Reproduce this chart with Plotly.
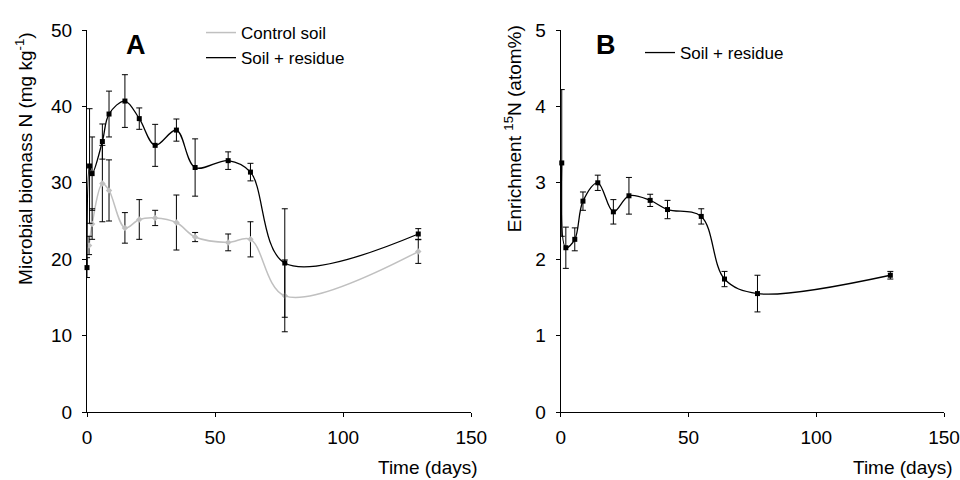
import plotly.graph_objects as go
from plotly.subplots import make_subplots

# ---- Panel A: Microbial biomass N (mg kg-1) ----
days_residue = [0, 1, 2, 6, 8.6, 14.8, 20.4, 26.6, 34.9, 42.2, 55.1, 63.8, 77.2, 129.3]
biomass_residue = [18.9, 32.2, 31.2, 35.4, 39.0, 40.7, 38.4, 34.9, 36.9, 32.0, 32.9, 31.4, 19.5, 23.3]
biomass_residue_err = [1.3, 7.5, 4.8, 2.3, 3.0, 3.45, 1.4, 2.75, 1.45, 3.75, 1.15, 1.15, 7.1, 0.7]

days_control = [0.8, 2, 6, 8.6, 14.8, 20.4, 26.6, 34.9, 42.2, 55.1, 63.8, 77.2, 129.3]
biomass_control = [21.8, 24.6, 29.9, 29.0, 24.1, 25.2, 25.4, 24.8, 22.9, 22.2, 22.6, 15.2, 21.0]
biomass_control_err = [1.2, 2.0, 5.0, 4.0, 2.0, 2.6, 1.0, 3.6, 0.6, 1.1, 2.3, 4.7, 1.55]

# ---- Panel B: Enrichment 15N (atom%) ----
days_enrich = [0.4, 2, 5.5, 8.7, 14.5, 20.6, 26.7, 35, 41.8, 55, 64.1, 77, 129]
enrich_residue = [3.26, 2.15, 2.26, 2.76, 3.00, 2.62, 2.83, 2.77, 2.65, 2.56, 1.74, 1.55, 1.79]
enrich_residue_err = [0.96, 0.27, 0.15, 0.12, 0.10, 0.16, 0.24, 0.08, 0.12, 0.10, 0.10, 0.24, 0.05]

x_ticks = [0, 50, 100, 150]
yA_ticks = [0, 10, 20, 30, 40, 50]
yB_ticks = [0, 1, 2, 3, 4, 5]

FONT = "Liberation Sans, Arial, sans-serif"
GRAY = "#c0c0c0"

fig = make_subplots(rows=1, cols=2)

# Control soil line (legend) and markers with error bars
fig.add_trace(go.Scatter(x=days_control, y=biomass_control, mode="lines",
                         line=dict(color=GRAY, width=1.5, shape="spline", smoothing=1),
                         name="Control soil", legend="legend", cliponaxis=False), row=1, col=1)
fig.add_trace(go.Scatter(x=days_control, y=biomass_control, mode="markers",
                         marker=dict(color=GRAY, size=5, symbol="diamond"),
                         error_y=dict(type="data", array=biomass_control_err, color="black",
                                      thickness=1, width=3),
                         showlegend=False, cliponaxis=False), row=1, col=1)
# Soil + residue
fig.add_trace(go.Scatter(x=days_residue, y=biomass_residue, mode="lines",
                         line=dict(color="black", width=1.3, shape="spline", smoothing=1),
                         name="Soil + residue", legend="legend", cliponaxis=False), row=1, col=1)
fig.add_trace(go.Scatter(x=days_residue, y=biomass_residue, mode="markers",
                         marker=dict(color="black", size=5, symbol="square"),
                         error_y=dict(type="data", array=biomass_residue_err, color="black",
                                      thickness=1, width=3),
                         showlegend=False, cliponaxis=False), row=1, col=1)

# Panel B
fig.add_trace(go.Scatter(x=days_enrich, y=enrich_residue, mode="lines",
                         line=dict(color="black", width=1.3, shape="spline", smoothing=1),
                         name="Soil + residue", legend="legend2", cliponaxis=False), row=1, col=2)
fig.add_trace(go.Scatter(x=days_enrich, y=enrich_residue, mode="markers",
                         marker=dict(color="black", size=5, symbol="square"),
                         error_y=dict(type="data", array=enrich_residue_err, color="black",
                                      thickness=1, width=3),
                         showlegend=False, cliponaxis=False), row=1, col=2)

axis_common = dict(showgrid=False, zeroline=False, showline=True, linecolor="black",
                   linewidth=1, ticks="outside", ticklen=4, tickcolor="black",
                   automargin=False, ticklabeloverflow="allow",
                   tickfont=dict(family=FONT, size=19, color="black"))

fig.update_xaxes(range=[0, 150], tickvals=x_ticks, ticklabelstandoff=4, **axis_common)
fig.update_yaxes(ticklabelstandoff=6, **axis_common)
fig.update_xaxes(domain=[0, 0.4448], row=1, col=1)
fig.update_xaxes(domain=[0.5483, (944 - 87) / 864], row=1, col=2)
fig.update_yaxes(range=[0, 50], tickvals=yA_ticks, row=1, col=1)
fig.update_yaxes(range=[0, 5], tickvals=yB_ticks, row=1, col=2)

annotations = [
    dict(text="Microbial biomass N (mg kg<sup>-1</sup>)", x=-0.073, y=0.665, textangle=-90,
         font=dict(size=19)),
    dict(text="Enrichment <sup>15</sup>N (atom%)", x=0.4930, y=0.743, textangle=-90,
         font=dict(size=19)),
    dict(text="Time (days)", x=(480 - 87) / 864, y=(412 - 467) / 382, xanchor="right",
         font=dict(size=19)),
    dict(text="Time (days)", x=(955 - 87) / 864, y=(412 - 467) / 382, xanchor="right",
         font=dict(size=19)),
    dict(text="<b>A</b>", x=(136 - 87) / 864, y=(412 - 45) / 382, font=dict(size=27)),
    dict(text="<b>B</b>", x=(606 - 87) / 864, y=(412 - 45) / 382, font=dict(size=27)),
]
for a in annotations:
    a.setdefault("xanchor", "center")
    a.update(xref="paper", yref="paper", showarrow=False, yanchor="middle")
    a["font"] = dict(family=FONT, color="black", **a["font"])

fig.update_layout(
    width=960, height=480,
    margin=dict(l=87, r=9, t=30, b=68, autoexpand=False),
    paper_bgcolor="white", plot_bgcolor="white",
    font=dict(family=FONT, color="black"),
    annotations=annotations,
    legend=dict(x=(201 - 87) / 864, y=(412 - 15) / 382, xanchor="left", yanchor="top",
                font=dict(family=FONT, size=17), bgcolor="rgba(0,0,0,0)",
                tracegroupgap=0, itemwidth=30),
    legend2=dict(x=(640 - 87) / 864, y=(412 - 35) / 382, xanchor="left", yanchor="top",
                 font=dict(family=FONT, size=17), bgcolor="rgba(0,0,0,0)", itemwidth=30),
)

fig.write_html("out.html", config={"displayModeBar": False},
               post_script="document.body.style.margin='0';")
